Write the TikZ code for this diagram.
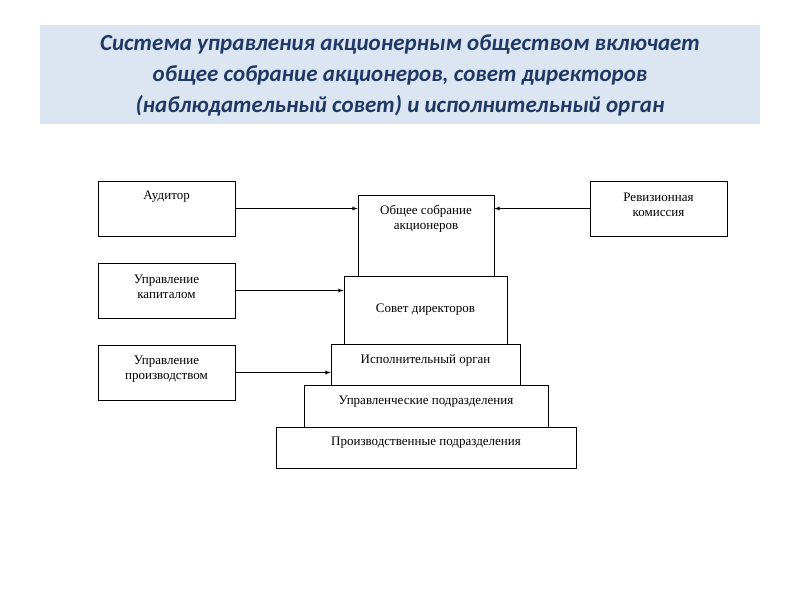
\documentclass[tikz,border=0pt]{standalone}
\usepackage{fontspec}
\setmainfont{Liberation Serif}
\newfontfamily\titlefont{Carlito}
\begin{document}
\begin{tikzpicture}[x=1pt,y=-1pt,
  box/.style={draw,line width=0.8pt,rectangle,inner sep=0pt},
  txt/.style={font=\fontsize{13}{15}\selectfont,align=center},
  arr/.style={-latex,line width=0.8pt}]
\useasboundingbox (0,0) rectangle (800,600);
\fill[fill={rgb,255:red,220;green,230;blue,242}] (40,25) rectangle (760,124);
\node[font=\titlefont\bfseries\itshape\fontsize{23}{31}\selectfont,text={rgb,255:red,31;green,56;blue,100},align=center] (title) at (400,75)
{Система управления акционерным обществом включает\\общее собрание акционеров, совет директоров\\(наблюдательный совет) и исполнительный орган};
\node[box,minimum width=137,minimum height=55] (aud) at (166.5,208.5) {};
\node[txt] (taud) at (166.5,197) {Аудитор};
\node[box,minimum width=137,minimum height=55] (rev) at (658.5,208.5) {};
\node[txt] (trev) at (658.5,205) {Ревизионная\\комиссия};
\node[box,minimum width=136,minimum height=81] (gen) at (426,235.5) {};
\node[txt] (tgen) at (426,219) {Общее собрание\\акционеров};
\node[box,minimum width=137,minimum height=55] (cap) at (166.5,290.5) {};
\node[txt] (tcap) at (166.5,287) {Управление\\капиталом};
\node[box,minimum width=163,minimum height=68,fill=white] (sov) at (425.5,310) {};
\node[txt] (tsov) at (425.5,310) {Совет директоров};
\node[box,minimum width=137,minimum height=55] (pro) at (166.5,372.5) {};
\node[txt] (tpro) at (166.5,369) {Управление\\производством};
\node[box,minimum width=189,minimum height=41,fill=white] (isp) at (425.5,364.5) {};
\node[txt] (tisp) at (425.5,360) {Исполнительный орган};
\node[box,minimum width=244,minimum height=42,fill=white] (upr) at (426,406) {};
\node[txt] (tupr) at (426,402) {Управленческие подразделения};
\node[box,minimum width=300,minimum height=41,fill=white] (prd) at (426,447.5) {};
\node[txt] (tprd) at (426,443) {Производственные подразделения};
\draw[arr] (aud.east) -- (aud.east -| gen.west);
\draw[arr] (rev.west) -- (rev.west -| gen.east);
\draw[arr] (cap.east) -- (cap.east -| sov.west);
\draw[arr] (pro.east) -- (pro.east -| isp.west);
\end{tikzpicture}
\end{document}
